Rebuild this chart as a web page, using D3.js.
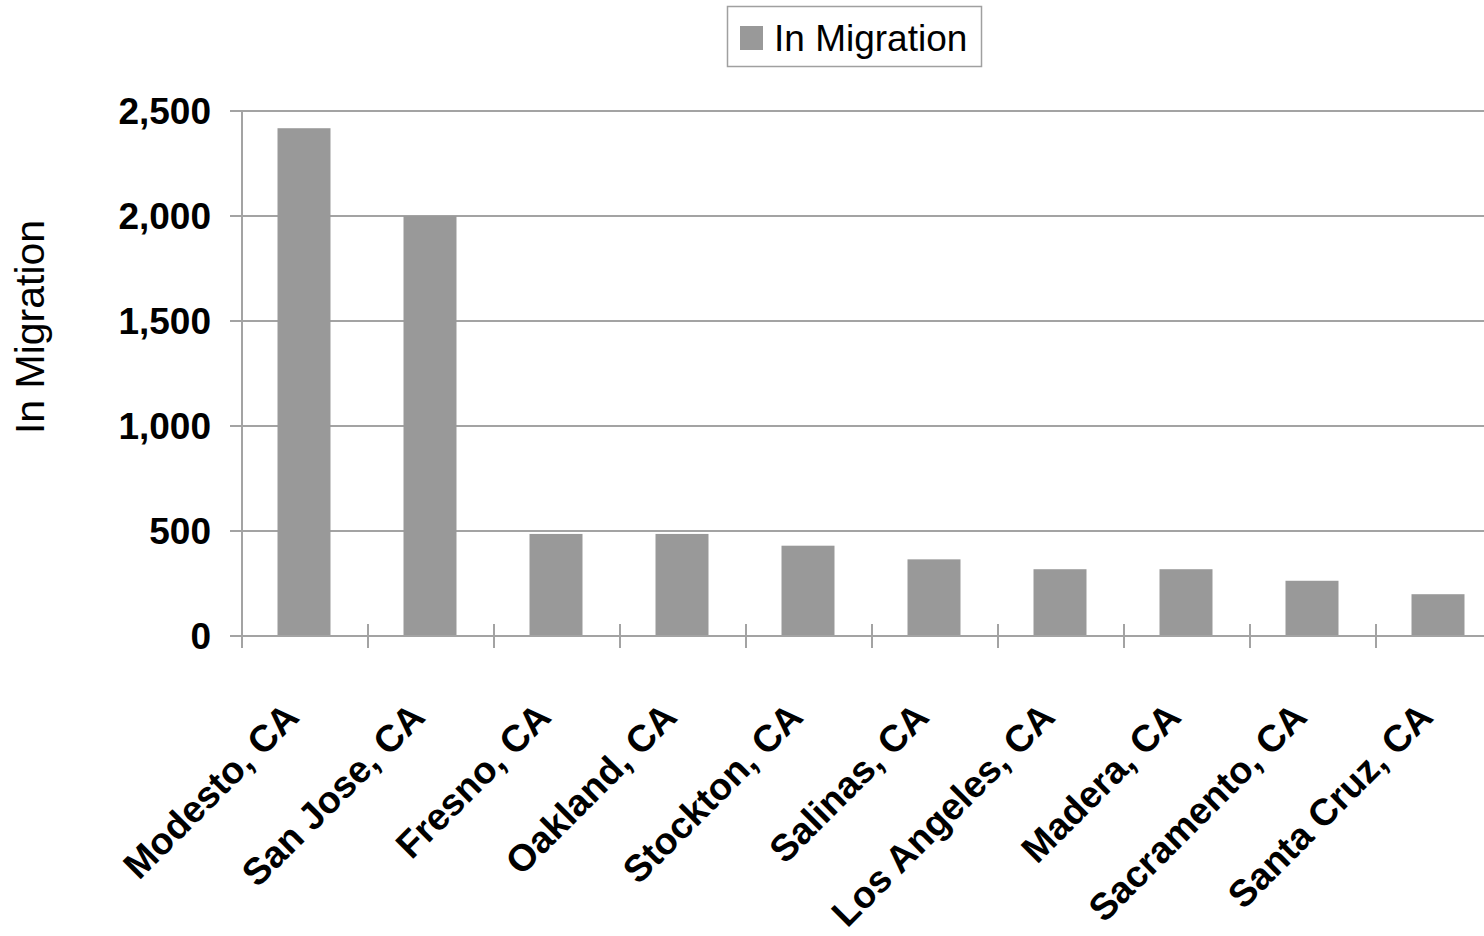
<!DOCTYPE html>
<html>
<head>
<meta charset="utf-8">
<script src="https://cdn.jsdelivr.net/npm/d3@7"></script>
<style>
  html, body { margin: 0; padding: 0; background: #fff; }
  svg { display: block; font-family: "Liberation Sans", Arial, sans-serif; }
</style>
</head>
<body>
<svg id="chart" width="1484" height="936"></svg>
<script>
// Top destination metros by in-migration
const categories = ["Modesto, CA", "San Jose, CA", "Fresno, CA", "Oakland, CA", "Stockton, CA",
                    "Salinas, CA", "Los Angeles, CA", "Madera, CA", "Sacramento, CA", "Santa Cruz, CA"];
const inMigration = [2418, 2000, 486, 486, 430, 365, 318, 318, 263, 199];
const yTicks = [0, 500, 1000, 1500, 2000, 2500];
const seriesName = "In Migration";
const axisTitle = "In Migration";

const svg = d3.select("#chart");
const plot = { left: 242, right: 1502, top: 111, bottom: 636 };
const gridColor = "#a3a3a3";
const barColor = "#999999";

const x = d3.scaleBand().domain(categories).range([plot.left, plot.right]);
const y = d3.scaleLinear().domain([0, 2500]).range([plot.bottom, plot.top]);
const barW = 53;

// horizontal gridlines with short tick stubs to the left of the axis
svg.append("g").selectAll("line").data(yTicks).join("line")
  .attr("x1", plot.left - 12).attr("x2", 1484)
  .attr("y1", d => y(d)).attr("y2", d => y(d))
  .attr("stroke", gridColor).attr("stroke-width", 2);

// value axis line
svg.append("line")
  .attr("x1", plot.left).attr("x2", plot.left)
  .attr("y1", y(2500)).attr("y2", y(0))
  .attr("stroke", gridColor).attr("stroke-width", 2);

// y tick labels
svg.append("g").selectAll("text").data(yTicks).join("text")
  .attr("x", 211).attr("y", d => y(d))
  .attr("dy", "0.36em")
  .attr("text-anchor", "end")
  .attr("font-size", 37).attr("font-weight", "bold").attr("fill", "#000")
  .text(d => d3.format(",")(d));

// bars
svg.append("g").selectAll("rect").data(categories).join("rect")
  .attr("x", (d) => x(d) + x.bandwidth() / 2 - barW / 2 - 1)
  .attr("y", (d, i) => y(inMigration[i]))
  .attr("width", barW)
  .attr("height", (d, i) => y(0) - y(inMigration[i]))
  .attr("fill", barColor);

// category axis line and crossing tick marks
svg.append("line")
  .attr("x1", plot.left).attr("x2", 1484)
  .attr("y1", y(0)).attr("y2", y(0))
  .attr("stroke", gridColor).attr("stroke-width", 2);
const tickXs = categories.map(c => x(c)).concat([plot.right]);
svg.append("g").selectAll("line").data(tickXs).join("line")
  .attr("x1", d => d).attr("x2", d => d)
  .attr("y1", y(0) - 12).attr("y2", y(0) + 12)
  .attr("stroke", gridColor).attr("stroke-width", 2);

// rotated category labels
svg.append("g").selectAll("text").data(categories).join("text")
  .attr("transform", d => `translate(${x(d) + x.bandwidth() / 2 - 4},719) rotate(-45)`)
  .attr("text-anchor", "end")
  .attr("font-size", 37.5).attr("font-weight", "bold").attr("fill", "#000")
  .text(d => d);

// y axis title
svg.append("text")
  .attr("transform", "translate(44,327) rotate(-90)")
  .attr("text-anchor", "middle")
  .attr("font-size", 41).attr("fill", "#000")
  .text(axisTitle);

// legend
const lg = svg.append("g");
lg.append("rect")
  .attr("x", 727.5).attr("y", 6.5).attr("width", 254).attr("height", 60)
  .attr("fill", "#fff").attr("stroke", "#a0a0a0").attr("stroke-width", 1.5);
lg.append("rect")
  .attr("x", 740).attr("y", 26).attr("width", 23).attr("height", 24)
  .attr("fill", barColor);
lg.append("text")
  .attr("x", 774).attr("y", 51)
  .attr("font-size", 37).attr("fill", "#000")
  .text(seriesName);
</script>
</body>
</html>
